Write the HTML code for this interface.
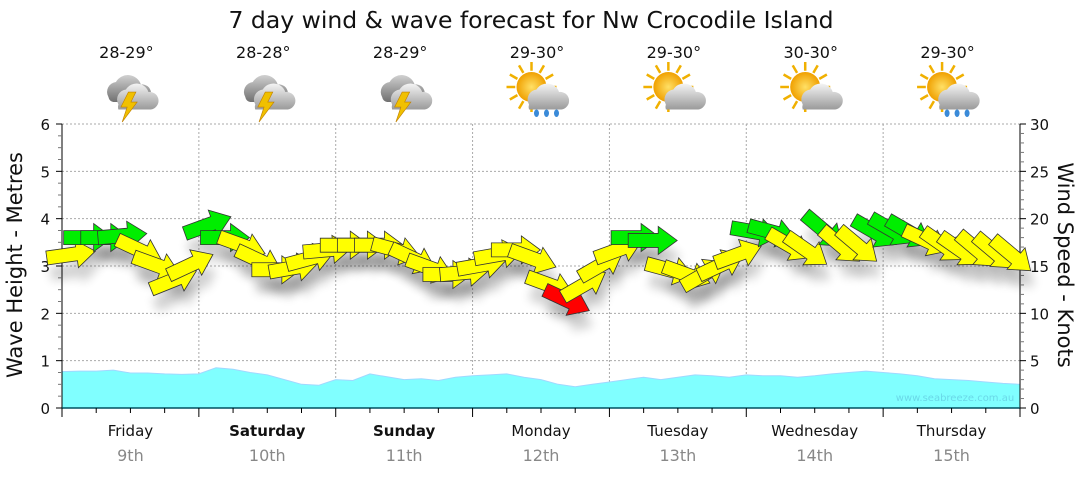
<!DOCTYPE html>
<html><head><meta charset="utf-8">
<style>
body{margin:0;background:#fff;font-family:"Liberation Sans",sans-serif}
svg text{font-family:"DejaVu Sans","Liberation Sans",sans-serif}
</style></head>
<body>
<svg id="c" width="1080" height="475" viewBox="0 0 1080 475" xmlns="http://www.w3.org/2000/svg">
<defs>
<filter id="sh" x="-50%" y="-50%" width="200%" height="200%"><feGaussianBlur stdDeviation="5"/></filter>
<radialGradient id="sun"><stop offset="0" stop-color="#ffe066"/><stop offset="1" stop-color="#f0a000"/></radialGradient>
<linearGradient id="cl" x1="0" y1="0" x2="0" y2="1"><stop offset="0" stop-color="#f4f4f4"/><stop offset="1" stop-color="#9a9a9a"/></linearGradient>
<linearGradient id="dcl" x1="0" y1="0" x2="0" y2="1"><stop offset="0" stop-color="#d0d0d0"/><stop offset="1" stop-color="#707070"/></linearGradient>
</defs>
<text x="531" y="28" text-anchor="middle" font-size="23.5" fill="#111">7 day wind &amp; wave forecast for Nw Crocodile Island</text>
<g id="grid"></g>
<g id="waves"></g>
<g id="axes"></g>
<g id="shadows"></g>
<g id="arrows"></g>
<g id="icons"></g>
<text x="955" y="401" text-anchor="middle" font-size="10" fill="#6ad8e8">www.seabreeze.com.au</text>
<text transform="translate(22,265) rotate(-90)" text-anchor="middle" font-size="21" fill="#111">Wave Height - Metres</text>
<text transform="translate(1058,265) rotate(90)" text-anchor="middle" font-size="21" fill="#111">Wind Speed - Knots</text>
</svg>
<script>
const days=["Friday","Saturday","Sunday","Monday","Tuesday","Wednesday","Thursday"];
const dates=["9th","10th","11th","12th","13th","14th","15th"];
const boldDays=[false,true,true,false,false,false,false];
const temps=["28-29°","28-28°","28-29°","29-30°","29-30°","30-30°","29-30°"];
const weather=["storm","storm","storm","sunrain","suncloud","suncloud","sunrain"];
const waveHeights=[0.77,0.78,0.78,0.8,0.74,0.74,0.72,0.71,0.72,0.85,0.82,0.75,0.7,0.6,0.5,0.48,0.6,0.58,0.72,0.66,0.6,0.62,0.58,0.65,0.68,0.7,0.72,0.65,0.6,0.5,0.45,0.5,0.55,0.6,0.65,0.6,0.65,0.7,0.68,0.65,0.7,0.68,0.68,0.65,0.68,0.72,0.75,0.78,0.75,0.72,0.68,0.62,0.6,0.58,0.55,0.52,0.5];
const windKnots=[16.2,18,18,18.2,16.7,15.1,13.5,15.1, 19.3,18,17.2,15.6,14.6,14.8,15.8,16.7, 17.2,17.2,17.2,16.7,15.8,14.8,14.1,14.3, 15.1,16.2,16.7,15.8,13,11.4,13,15.1, 16.7,18,17.7,14.6,14.1,14.1,15.1,16.2, 18.6,18.6,17.2,16.7,18.8,17.2,17.2,18.6, 18.8,18.6,17.7,17.2,16.7,16.7,16.5,16.2];
const windDir=[-8,0,0,-5,25,20,-22,-25, -20,0,20,25,0,-10,-15,-5, 0,0,0,15,25,20,0,-5, -10,-10,0,20,20,25,-30,-30, -20,0,0,15,20,-30,-25,-20, 10,15,30,35,40,40,40,30, 30,30,25,35,35,40,40,40];
const windColor=["y","g","g","g","y","y","y","y", "g","g","y","y","y","y","y","y", "y","y","y","y","y","y","y","y", "y","y","y","y","y","r","y","y", "y","g","g","y","y","y","y","y", "g","g","y","y","g","y","y","g", "g","g","y","y","y","y","y","y"];

const NS="http://www.w3.org/2000/svg";
const X0=62,X1=1020,Y0=408,Y6=124;
const dayW=(X1-X0)/7;
const yM=m=>Y0-(Y0-Y6)*m/6;
const yK=k=>yM(k/5);
const xT=i=>X0+i*dayW/8;
const xW=i=>X0+(i+0.5)*dayW/8;
function el(t,a,p){const e=document.createElementNS(NS,t);for(const k in a)e.setAttribute(k,a[k]);p.appendChild(e);return e;}
const grid=document.getElementById('grid'),axes=document.getElementById('axes');
for(let m=1;m<=6;m++){const l=el('line',{x1:X0,x2:X1,y1:yM(m),y2:yM(m),stroke:'#aaa','stroke-dasharray':'2,2'},grid);

}
for(let d=1;d<7;d++){const l=el('line',{x1:X0+d*dayW,x2:X0+d*dayW,y1:Y6,y2:Y0,stroke:'#aaa','stroke-dasharray':'2,2'},grid);

}
let d=`M${X0},${Y0}`;waveHeights.forEach((h,i)=>{d+=` L${xT(i).toFixed(1)},${yM(h).toFixed(1)}`;});d+=` L${X1},${Y0} Z`;
const wv=el('path',{d,fill:'#80ffff',stroke:'#a0d8ff','stroke-width':1},document.getElementById('waves'));


el('line',{x1:X0,x2:X0,y1:Y6,y2:Y0,stroke:'#000'},axes);
el('line',{x1:X1,x2:X1,y1:Y6,y2:Y0,stroke:'#000'},axes);
el('line',{x1:X0,x2:X1,y1:Y0,y2:Y0,stroke:'#005060','stroke-width':1.5},axes);
for(let m=0;m<=6;m+=0.25){const maj=m%1===0;el('line',{x1:X0-(maj?6:4),x2:X0,y1:yM(m),y2:yM(m),stroke:maj?'#000':'#777'},axes);
if(maj){const t=el('text',{x:X0-12,y:yM(m)+6,'text-anchor':'end','font-size':15,fill:'#111'},axes);t.textContent=m;

}}
for(let k=0;k<=30;k++){const maj=k%5===0;el('line',{x1:X1,x2:X1+(maj?6:4),y1:yK(k),y2:yK(k),stroke:maj?'#000':'#777'},axes);
if(maj){const t=el('text',{x:X1+10,y:yK(k)+6,'font-size':15,fill:'#111'},axes);t.textContent=k;

}}
for(let q=0;q<=28;q++){const maj=q%4===0;el('line',{x1:X0+q*dayW/4,x2:X0+q*dayW/4,y1:Y0,y2:Y0+(maj?9:5),stroke:'#000'},axes);}
days.forEach((n,i)=>{const cx=X0+(i+0.5)*dayW;
const t=el('text',{x:cx,y:436,'text-anchor':'middle','font-size':15,fill:'#111','font-weight':boldDays[i]?'bold':'normal'},axes);t.textContent=n;


const t2=el('text',{x:cx,y:461,'text-anchor':'middle','font-size':16,fill:'#888'},axes);t2.textContent=dates[i];


const t3=el('text',{x:cx-4,y:58,'text-anchor':'middle','font-size':16,fill:'#111'},axes);t3.textContent=temps[i];


drawIcon(cx-2,92,weather[i]);});
function drawIcon(cx,cy,type){const g=el('g',{transform:`translate(${cx},${cy}) scale(1.25)`},document.getElementById('icons'));


if(type!=='storm'){for(let a=0;a<360;a+=30){const r=a*Math.PI/180;el('line',{x1:-6+Math.cos(r)*13,y1:-4+Math.sin(r)*13,x2:-6+Math.cos(r)*20,y2:-4+Math.sin(r)*20,stroke:'#f0b000','stroke-width':2},g);}
el('circle',{cx:-6,cy:-4,r:12,fill:'url(#sun)'},g);
el('path',{d:'M-8,10 a8,8 0 0 1 6,-12 a10,10 0 0 1 18,2 a7,7 0 0 1 2,14 h-26 a6,6 0 0 1 0,-4z',fill:'url(#cl)'},g);
if(type==='sunrain'){[-2,6,14].forEach(x=>el('ellipse',{cx:x,cy:17,rx:2,ry:3,fill:'#3a8ad8'},g));}}
else{el('path',{d:'M-16,4 a8,8 0 0 1 6,-12 a11,11 0 0 1 20,2 a7,7 0 0 1 2,14 h-24 a5,5 0 0 1 -4,-4z',fill:'url(#dcl)'},g);
el('path',{d:'M-8,10 a8,8 0 0 1 6,-12 a10,10 0 0 1 18,2 a7,7 0 0 1 2,14 h-26 a6,6 0 0 1 0,-4z',fill:'url(#cl)'},g);
el('path',{d:'M0,0 l-6,12 h5 l-4,12 l12,-16 h-5 l4,-8z',fill:'#f0c000',stroke:'#c08000','stroke-width':0.5},g);}}
const colMap={g:'#00ee00',y:'#ffff00',r:'#ff0000'};
const arrowPath='M-24,-7 L6,-7 L6,-14 L25,0 L6,14 L6,7 L-24,7 Z';
const sh=document.getElementById('shadows'),ar=document.getElementById('arrows');
windKnots.forEach((k,i)=>{const x=xW(i),y=yK(k);
el('path',{d:arrowPath,transform:`translate(${x+4},${y+16}) rotate(${windDir[i]})`,fill:'#000',opacity:0.18,filter:'url(#sh)'},sh);
const a=el('path',{d:arrowPath,transform:`translate(${x},${y}) rotate(${windDir[i]})`,fill:colMap[windColor[i]],stroke:'#333','stroke-width':0.8},ar);

});
</script>
</body></html>
